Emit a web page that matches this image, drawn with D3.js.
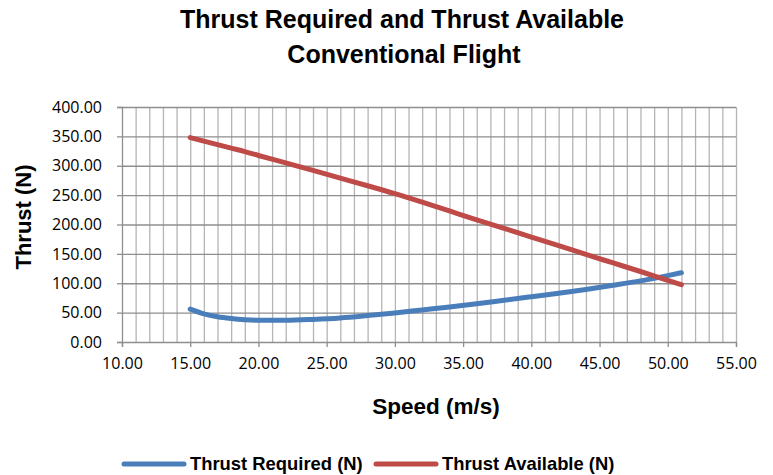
<!DOCTYPE html>
<html>
<head>
<meta charset="utf-8">
<script src="https://cdn.jsdelivr.net/npm/d3@7"></script>
<style>
  body { margin: 0; background: #fff; }
  text { font-family: "Liberation Sans", Arial, sans-serif; }
  .tick text { font-family: "Open Sans", "Noto Sans", sans-serif; font-size: 16px; fill: #000; }
</style>
</head>
<body>
<div class="chart"></div>
<script>
const width = 773;
const height = 475;
const margin = { top: 107, right: 37, bottom: 133, left: 122 };
const innerW = width - margin.left - margin.right;
const innerH = height - margin.top - margin.bottom;

// speed (m/s) for each sample
const speed = [15, 16, 17, 18, 19, 20, 22, 24, 26, 28, 30, 32, 34, 36, 38, 40, 42, 44, 46, 48, 50, 51];
// thrust required (N)
const thrustRequired = [56, 48, 43, 40, 38, 37, 37, 38.5, 41, 45, 49.5, 54.5, 59.5, 65, 71, 77, 83, 89.5, 96.5, 104, 113, 118];
// thrust available (N)
const thrustAvailable = [348, 342, 336, 330, 324, 317.5, 305, 292, 279, 266, 252.5, 238, 223, 208, 193.5, 178.5, 164, 149, 134.5, 120, 105, 97.5];

const xTicks = [10, 15, 20, 25, 30, 35, 40, 45, 50, 55];
const yTicks = [0, 50, 100, 150, 200, 250, 300, 350, 400];

const svg = d3.select('.chart').append('svg')
    .attr('width', width)
    .attr('height', height);

const chart = svg.append('g')
    .attr('transform', `translate(${margin.left}, ${margin.top})`);

const xScale = d3.scaleLinear().domain([10, 55]).range([0, innerW]);
const yScale = d3.scaleLinear().domain([0, 400]).range([innerH, 0]);

/*      vertical grid every 1 m/s      */
chart.append('g')
    .call(d3.axisBottom(xScale).tickValues(d3.range(11, 56, 1)).tickSize(innerH).tickFormat(''))
    .call(g => g.select('.domain').remove())
    .call(g => g.selectAll('line').attr('stroke', '#b5b5b5').attr('stroke-width', 1.3));

/*      horizontal grid      */
chart.append('g')
    .call(d3.axisLeft(yScale).tickValues(yTicks.slice(1)).tickSize(-innerW).tickFormat(''))
    .call(g => g.select('.domain').remove())
    .call(g => g.selectAll('line').attr('stroke', '#8e8e8e').attr('stroke-width', 1.3));

/*      axes      */
chart.append('g')
    .attr('transform', `translate(0, ${innerH})`)
    .call(d3.axisBottom(xScale).tickValues(xTicks).tickSize(5).tickPadding(11).tickFormat(d3.format('.2f')))
    .call(g => g.select('.domain').attr('stroke', '#8e8e8e').attr('stroke-width', 1.3))
    .call(g => g.selectAll('.tick line').attr('stroke', '#8e8e8e').attr('stroke-width', 1.3));

chart.append('g')
    .call(d3.axisLeft(yScale).tickValues(yTicks).tickSize(5).tickPadding(15).tickFormat(d3.format('.2f')))
    .call(g => g.select('.domain').attr('stroke', '#8e8e8e').attr('stroke-width', 1.3))
    .call(g => g.selectAll('.tick line').attr('stroke', '#8e8e8e').attr('stroke-width', 1.3));

/*      lines      */
const line = d3.line()
    .x((d, i) => xScale(speed[i]))
    .y(d => yScale(d))
    .curve(d3.curveMonotoneX);

chart.append('path')
    .datum(thrustRequired)
    .attr('fill', 'none')
    .attr('stroke', '#4a7ebb')
    .attr('stroke-width', 5)
    .attr('stroke-linecap', 'round')
    .attr('d', line);

chart.append('path')
    .datum(thrustAvailable)
    .attr('fill', 'none')
    .attr('stroke', '#be4b48')
    .attr('stroke-width', 5)
    .attr('stroke-linecap', 'round')
    .attr('d', line);

/*      titles      */
svg.append('text')
    .attr('x', 402).attr('y', 28)
    .attr('text-anchor', 'middle')
    .attr('font-size', 25).attr('font-weight', 'bold')
    .text('Thrust Required and Thrust Available');
svg.append('text')
    .attr('x', 404).attr('y', 63)
    .attr('text-anchor', 'middle')
    .attr('font-size', 25).attr('font-weight', 'bold')
    .text('Conventional Flight');

svg.append('text')
    .attr('x', 436).attr('y', 414)
    .attr('text-anchor', 'middle')
    .attr('font-size', 22.5).attr('font-weight', 'bold')
    .text('Speed (m/s)');

svg.append('text')
    .attr('transform', 'translate(31, 217) rotate(-90)')
    .attr('text-anchor', 'middle')
    .attr('font-size', 22).attr('font-weight', 'bold')
    .text('Thrust (N)');

/*      legend      */
const legend = [
    { name: 'Thrust Required (N)', color: '#4a7ebb', x: 124 },
    { name: 'Thrust Available (N)', color: '#be4b48', x: 376 }
];
const lg = svg.selectAll('.legend').data(legend).enter().append('g')
    .attr('class', 'legend')
    .attr('transform', d => `translate(${d.x}, 464)`);
lg.append('line')
    .attr('x1', 0).attr('x2', 60)
    .attr('stroke', d => d.color)
    .attr('stroke-width', 5)
    .attr('stroke-linecap', 'round');
lg.append('text')
    .attr('x', 66).attr('y', 6)
    .attr('font-size', 18.4).attr('font-weight', 'bold')
    .text(d => d.name);
</script>
</body>
</html>
